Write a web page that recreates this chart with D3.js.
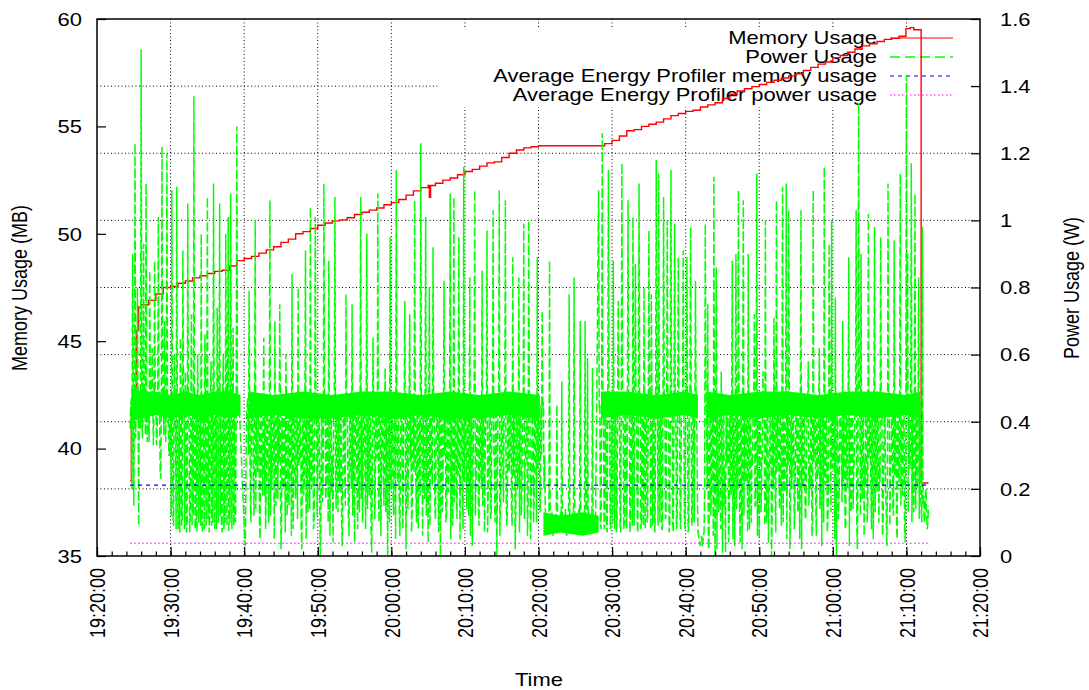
<!DOCTYPE html>
<html>
<head>
<meta charset="utf-8">
<script src="https://cdn.jsdelivr.net/npm/d3@7/dist/d3.min.js"></script>
<style>
  html, body { margin: 0; padding: 0; background: #fff; }
  svg { display: block; font-family: "Liberation Sans", Arial, Helvetica, sans-serif; }
</style>
</head>
<body>
<svg id="chart" width="1089" height="690"></svg>
<script>
// ---- data ----
const xTickLabels = ["19:20:00", "19:30:00", "19:40:00", "19:50:00", "20:00:00", "20:10:00",
  "20:20:00", "20:30:00", "20:40:00", "20:50:00", "21:00:00", "21:10:00", "21:20:00"];
const memTicks = [35, 40, 45, 50, 55, 60];
const powerTicks = [0, 0.2, 0.4, 0.6, 0.8, 1, 1.2, 1.4, 1.6];
const seriesNames = ["Memory Usage", "Power Usage",
  "Average Energy Profiler memory usage", "Average Energy Profiler power usage"];

const memTime = ["19:24:30", "19:24:40", "19:25:00", "19:25:20", "19:25:40", "19:26:00", "19:27:00",
  "19:28:00", "19:29:00", "19:30:00", "19:31:00", "19:32:00", "19:33:00", "19:34:00", "19:35:00",
  "19:36:00", "19:37:00", "19:38:00", "19:39:00", "19:40:00", "19:41:00", "19:42:00", "19:43:00",
  "19:44:00", "19:45:00", "19:46:00", "19:47:00", "19:48:00", "19:49:00", "19:50:00", "19:51:00",
  "19:52:00", "19:53:00", "19:54:00", "19:55:00", "19:56:00", "19:57:00", "19:58:00", "19:59:00",
  "20:00:00", "20:01:00", "20:02:00", "20:03:00", "20:04:00", "20:05:00", "20:05:10", "20:05:20",
  "20:06:00", "20:07:00", "20:08:00", "20:09:00", "20:10:00", "20:11:00", "20:12:00", "20:13:00",
  "20:14:00", "20:15:00", "20:16:00", "20:17:00", "20:18:00", "20:19:00", "20:20:00", "20:28:00",
  "20:29:00", "20:30:00", "20:31:00", "20:32:00", "20:33:00", "20:34:00", "20:35:00", "20:36:00",
  "20:37:00", "20:38:00", "20:39:00", "20:40:00", "20:41:00", "20:42:00", "20:43:00", "20:44:00",
  "20:45:00", "20:46:00", "20:47:00", "20:48:00", "20:49:00", "20:50:00", "20:51:00", "20:52:00",
  "20:53:00", "20:54:00", "20:55:00", "20:56:00", "20:57:00", "20:58:00", "20:59:00", "21:00:00",
  "21:01:00", "21:02:00", "21:03:00", "21:04:00", "21:05:00", "21:06:00", "21:07:00", "21:08:00",
  "21:09:00", "21:09:56", "21:10:30", "21:11:00", "21:12:00", "21:13:00"];
const memMB = [38.5, 41.9, 42.2, 45.5, 46.6, 46.7, 46.9,
  47.2, 47.5, 47.55, 47.7, 47.8, 47.95, 48.05, 48.15,
  48.25, 48.3, 48.5, 48.75, 48.85, 48.95, 49.1, 49.25,
  49.4, 49.6, 49.75, 50.0, 50.1, 50.25, 50.4, 50.5,
  50.6, 50.65, 50.75, 50.9, 51.0, 51.1, 51.2, 51.35,
  51.45, 51.6, 51.8, 52.0, 52.15, 52.25, 51.7, 52.25,
  52.35, 52.5, 52.6, 52.75, 52.9, 53.0, 53.15, 53.3,
  53.35, 53.55, 53.75, 53.9, 54.0, 54.05, 54.1, 54.1,
  54.2, 54.35, 54.55, 54.8, 54.85, 55.0, 55.1, 55.2,
  55.35, 55.5, 55.6, 55.7, 55.75, 55.9, 56.0, 56.1,
  56.3, 56.5, 56.65, 56.75, 56.85, 56.95, 57.05, 57.15,
  57.25, 57.35, 57.45, 57.6, 57.75, 57.9, 58.0, 58.2,
  58.3, 58.45, 58.6, 58.75, 58.85, 58.95, 59.05, 59.1,
  59.2, 59.55, 59.6, 59.5, 38.4, 38.4];

// power samples on the 10 s grid from 19:24:30
const powerStart = "19:24:30";
const powerStepSec = 10;
const powerW = [
  0.38, 0.47, 0.9, 0.15, 1.23, 0.44, 0.8, 0.09, 0.46, 1.51,
  0.35, 0.93, 0.45, 1.11, 0.34, 0.47, 0.85, 0.44, 0.62, 0.33,
  0.88, 0.46, 0.36, 1.01, 0.45, 0.23, 1.22, 0.47, 0.7, 0.34,
  1.20, 0.45, 0.3, 0.46, 1.09, 0.1, 0.6, 0.44, 1.10, 0.08,
  0.46, 0.65, 0.09, 0.91, 0.45, 0.55, 0.07, 1.05, 0.44, 0.11,
  0.72, 0.46, 1.37, 0.08, 0.45, 0.6, 0.1, 0.47, 0.96, 0.07,
  0.44, 0.66, 0.09, 1.07, 0.46, 0.12, 0.58, 0.45, 1.11, 0.08,
  0.47, 0.74, 0.1, 1.05, 0.44, 0.07, 0.6, 0.46, 0.96, 0.09,
  1.01, 0.45, 1.08, 0.08, 0.68, 0.46, 0.1, 1.28, 0.45, 0.44,
  0.36, 0.27, 0.18, 0.09, 0.03, 0.44, 0.47, 0.79, 0.2, 0.45,
  0.46, 0.12, 1.0, 0.44, 0.25, 0.47, 0.05, 0.45, 0.18, 0.65,
  0.46, 0.22, 0.44, 0.1, 1.06, 0.47, 0.3, 0.45, 0.7, 0.15,
  0.46, 0.44, 0.75, 0.02, 0.47, 0.2, 0.45, 0.6, 0.12, 0.46,
  0.25, 0.44, 0.84, 0.08, 0.47, 0.17, 0.45, 0.8, 0.28, 0.46,
  0.02, 0.44, 0.22, 0.91, 0.47, 0.13, 0.45, 1.04, 0.2, 0.46,
  0.1, 1.01, 0.44, 0.27, 0.47, 0.0, 0.45, 0.16, 1.11, 0.46,
  0.21, 0.44, 0.88, 0.06, 0.47, 0.3, 0.45, 1.07, 0.14, 0.46,
  0.44, 0.19, 0.47, 0.03, 0.45, 0.24, 0.78, 0.46, 0.11, 0.44,
  0.26, 0.75, 0.47, 0.04, 0.45, 0.2, 0.46, 0.13, 1.07, 0.44,
  0.29, 0.47, 0.08, 0.96, 0.45, 0.18, 0.46, 0.01, 0.65, 0.44,
  0.23, 0.47, 1.08, 0.1, 0.45, 0.27, 0.46, 0.15, 0.56, 0.44,
  0.0, 0.47, 0.95, 0.2, 0.45, 0.12, 0.46, 1.15, 0.25, 0.44,
  0.06, 0.47, 0.19, 0.45, 0.76, 0.02, 0.46, 0.28, 0.72, 0.44,
  0.14, 0.47, 1.06, 0.21, 0.45, 0.08, 0.46, 1.23, 0.3, 0.44,
  0.17, 1.01, 0.47, 0.04, 0.8, 0.45, 0.24, 0.92, 0.46, 0.11,
  0.44, 0.26, 0.47, 0.0, 0.45, 0.19, 0.82, 0.46, 0.13, 0.44,
  0.27, 1.08, 0.47, 0.09, 1.07, 0.45, 0.22, 0.46, 0.95, 0.05,
  0.44, 0.18, 1.16, 0.47, 0.29, 0.45, 0.12, 0.83, 0.46, 0.03,
  0.44, 1.09, 0.21, 0.47, 0.15, 0.45, 0.26, 0.85, 0.46, 0.07,
  0.44, 0.97, 0.2, 0.47, 0.11, 0.45, 1.03, 0.28, 0.46, 0.0,
  0.44, 1.09, 0.16, 0.47, 0.23, 0.45, 1.06, 0.09, 0.46, 0.25,
  0.44, 0.14, 0.89, 0.47, 0.02, 0.45, 0.2, 0.83, 0.46, 0.12,
  0.44, 0.99, 0.27, 0.47, 0.06, 1.0, 0.45, 0.18, 0.46, 0.1,
  0.44, 0.24, 0.89, 0.47, 0.15, 0.45, 0.73, 0.46, 0.3, 0.08,
  0.12, 0.07, 0.88, 0.1, 0.13, 0.06, 0.11, 0.09, 0.45, 0.12,
  0.07, 0.13, 0.52, 0.08, 0.11, 0.14, 0.06, 0.1, 0.78, 0.12,
  0.08, 0.13, 0.83, 0.07, 0.11, 0.09, 0.14, 0.7, 0.06, 0.12,
  0.1, 0.7, 0.08, 0.59, 0.13, 0.07, 0.11, 0.56, 0.09, 0.12,
  0.3, 0.66, 1.09, 0.45, 0.08, 1.26, 0.46, 0.1, 0.44, 0.07,
  1.15, 0.45, 0.09, 0.47, 0.88, 0.08, 0.44, 0.11, 0.76, 0.46,
  0.07, 1.17, 0.45, 0.1, 0.47, 0.08, 1.06, 0.44, 0.12, 0.46,
  1.01, 0.09, 0.87, 0.45, 0.07, 1.11, 0.47, 0.1, 0.44, 0.8,
  0.08, 0.46, 0.11, 0.97, 0.45, 0.78, 0.09, 0.47, 0.07, 1.18,
  0.44, 1.14, 0.1, 0.46, 0.08, 1.07, 0.45, 0.12, 1.0, 0.47,
  0.09, 1.15, 0.44, 0.07, 0.99, 0.46, 0.1, 0.89, 0.45, 0.08,
  0.47, 0.91, 0.11, 0.44, 0.89, 0.07, 0.46, 0.98, 0.09, 0.45,
  0.1, 0.82, 0.45, 0.08, 0.05, 0.03, 0.06, 0.04, 0.07, 0.99,
  0.45, 0.75, 0.02, 0.47, 0.2, 0.44, 1.13, 0.0, 0.86, 0.46,
  0.13, 0.45, 0.55, 0.01, 0.47, 0.25, 0.44, 0.47, 0.04, 0.46,
  0.18, 0.88, 0.45, 0.03, 0.9, 0.47, 1.09, 0.12, 0.44, 0.02,
  1.06, 0.46, 0.22, 0.45, 0.9, 0.08, 0.47, 0.3, 0.44, 0.72,
  0.15, 1.14, 0.46, 0.05, 0.45, 0.27, 0.55, 0.47, 1.0, 0.1,
  0.44, 0.21, 0.46, 0.0, 0.45, 0.71, 0.17, 1.06, 0.47, 0.26,
  0.44, 0.09, 1.10, 0.46, 0.19, 1.11, 0.45, 1.03, 0.02, 0.47,
  0.28, 0.44, 0.14, 0.46, 0.23, 0.45, 0.05, 1.03, 0.47, 0.2,
  0.44, 0.12, 0.46, 0.58, 0.27, 0.45, 0.06, 1.09, 0.47, 0.18,
  0.44, 0.25, 0.62, 0.46, 0.03, 0.45, 1.16, 0.21, 0.47, 0.11,
  0.93, 0.44, 1.0, 0.26, 0.46, 0.77, 0.0, 0.45, 0.16, 0.47,
  0.29, 0.7, 0.44, 0.08, 0.46, 0.2, 0.89, 0.45, 0.13, 0.47,
  0.24, 0.44, 1.03, 0.02, 1.35, 0.46, 0.9, 0.17, 0.45, 0.28,
  0.47, 0.1, 1.02, 0.44, 0.22, 0.46, 0.05, 0.98, 0.45, 0.19,
  0.47, 0.27, 0.95, 0.44, 0.11, 0.46, 0.2, 0.03, 1.11, 0.45,
  0.25, 0.47, 0.14, 0.94, 0.44, 0.08, 0.46, 0.22, 1.14, 0.45,
  0.18, 0.47, 0.04, 1.43, 0.9, 0.44, 0.26, 1.17, 0.46, 0.13,
  1.08, 0.45, 0.2, 0.83, 0.47, 0.15, 0.98, 0.18, 0.12, 0.2,
  0.08, 0.15
];
// samples taken 5 s after each of the ones above
const powerHalfW = [
  0.45, 0.2, 0.44, 0.46, 0.35, 0.45, 0.44, 0.47, 0.38, 0.46,
  0.45, 0.44, 0.36, 0.46, 0.45, 0.34, 0.47, 0.44, 0.45, 0.46,
  0.44, 0.33, 0.45, 0.46, 0.25, 0.47, 0.44, 0.36, 0.45, 0.46,
  0.44, 0.3, 0.45, 0.12, 0.46, 0.09, 0.44, 0.08, 0.45, 0.1,
  0.07, 0.46, 0.11, 0.45, 0.08, 0.44, 0.1, 0.46, 0.07, 0.45,
  0.09, 0.12, 0.44, 0.1, 0.07, 0.46, 0.45, 0.09, 0.11, 0.44,
  0.08, 0.45, 0.46, 0.11, 0.07, 0.44, 0.09, 0.1, 0.45, 0.46,
  0.08, 0.44, 0.46, 0.12, 0.09, 0.45, 0.08, 0.1, 0.44, 0.46,
  0.07, 0.1, 0.45, 0.44, 0.09, 0.11, 0.46, 0.45, 0.44, 0.4,
  0.32, 0.22, 0.14, 0.05, 0.25, 0.45, 0.3, 0.46, 0.1, 0.44,
  0.2, 0.45, 0.14, 0.3, 0.44, 0.09, 0.46, 0.26, 0.44, 0.18,
  0.08, 0.45, 0.23, 0.46, 0.12, 0.2, 0.44, 0.05, 0.33, 0.45,
  0.17, 0.28, 0.46, 0.1, 0.3, 0.45, 0.07, 0.44, 0.24, 0.15,
  0.45, 0.06, 0.3, 0.44, 0.21, 0.46, 0.11, 0.27, 0.45, 0.09,
  0.31, 0.18, 0.45, 0.05, 0.26, 0.44, 0.14, 0.29, 0.46, 0.08,
  0.33, 0.45, 0.12, 0.44, 0.22, 0.07, 0.46, 0.3, 0.45, 0.17,
  0.44, 0.1, 0.27, 0.45, 0.19, 0.04, 0.46, 0.25, 0.44, 0.13,
  0.31, 0.46, 0.09, 0.24, 0.45, 0.15, 0.44, 0.28, 0.06, 0.45,
  0.2, 0.12, 0.44, 0.3, 0.46, 0.08, 0.23, 0.45, 0.17, 0.1,
  0.45, 0.26, 0.44, 0.14, 0.3, 0.46, 0.07, 0.21, 0.45, 0.11,
  0.44, 0.29, 0.18, 0.45, 0.06, 0.46, 0.24, 0.44, 0.13, 0.32,
  0.45, 0.1, 0.27, 0.46, 0.16, 0.44, 0.05, 0.45, 0.22, 0.12,
  0.31, 0.46, 0.08, 0.44, 0.2, 0.45, 0.14, 0.46, 0.28, 0.07,
  0.44, 0.25, 0.45, 0.1, 0.3, 0.46, 0.18, 0.44, 0.06, 0.23,
  0.45, 0.12, 0.29, 0.46, 0.09, 0.44, 0.21, 0.45, 0.15, 0.32,
  0.46, 0.07, 0.26, 0.44, 0.13, 0.45, 0.3, 0.1, 0.46, 0.19,
  0.44, 0.05, 0.28, 0.45, 0.16, 0.46, 0.11, 0.24, 0.44, 0.3,
  0.45, 0.08, 0.22, 0.46, 0.14, 0.44, 0.27, 0.06, 0.45, 0.18,
  0.46, 0.12, 0.3, 0.44, 0.09, 0.45, 0.2, 0.15, 0.46, 0.28,
  0.44, 0.07, 0.25, 0.45, 0.13, 0.46, 0.31, 0.1, 0.44, 0.19,
  0.45, 0.06, 0.27, 0.46, 0.16, 0.44, 0.22, 0.12, 0.45, 0.29,
  0.46, 0.09, 0.24, 0.44, 0.14, 0.45, 0.3, 0.07, 0.46, 0.2,
  0.44, 0.11, 0.28, 0.45, 0.15, 0.46, 0.05, 0.23, 0.44, 0.18,
  0.45, 0.1, 0.26, 0.46, 0.13, 0.3, 0.44, 0.2, 0.15, 0.1,
  0.09, 0.11, 0.13, 0.08, 0.12, 0.1, 0.07, 0.13, 0.11, 0.09,
  0.1, 0.12, 0.09, 0.09, 0.13, 0.08, 0.11, 0.14, 0.1, 0.08,
  0.11, 0.1, 0.12, 0.12, 0.07, 0.13, 0.09, 0.11, 0.11, 0.08,
  0.12, 0.1, 0.1, 0.12, 0.09, 0.11, 0.08, 0.1, 0.12, 0.1,
  0.45, 0.9, 0.44, 0.1, 0.45, 0.46, 0.08, 0.45, 0.09, 0.46,
  0.44, 0.08, 0.46, 0.1, 0.45, 0.44, 0.07, 0.46, 0.45, 0.09,
  0.45, 0.44, 0.08, 0.46, 0.1, 0.45, 0.44, 0.07, 0.45, 0.09,
  0.46, 0.44, 0.45, 0.1, 0.46, 0.44, 0.08, 0.45, 0.09, 0.44,
  0.45, 0.1, 0.44, 0.46, 0.08, 0.45, 0.45, 0.1, 0.44, 0.46,
  0.09, 0.45, 0.44, 0.08, 0.46, 0.44, 0.11, 0.45, 0.45, 0.07,
  0.46, 0.44, 0.09, 0.45, 0.46, 0.08, 0.44, 0.45, 0.1, 0.46,
  0.44, 0.45, 0.08, 0.46, 0.45, 0.09, 0.44, 0.45, 0.11, 0.46,
  0.44, 0.45, 0.2, 0.06, 0.04, 0.05, 0.03, 0.06, 0.2, 0.45,
  0.2, 0.03, 0.3, 0.12, 0.45, 0.06, 0.25, 0.44, 0.02, 0.2,
  0.45, 0.08, 0.3, 0.46, 0.15, 0.01, 0.27, 0.44, 0.1, 0.22,
  0.45, 0.05, 0.28, 0.46, 0.14, 0.2, 0.44, 0.04, 0.3, 0.45,
  0.12, 0.25, 0.44, 0.07, 0.19, 0.46, 0.1, 0.27, 0.45, 0.15,
  0.45, 0.06, 0.24, 0.46, 0.13, 0.3, 0.44, 0.09, 0.21, 0.45,
  0.04, 0.28, 0.46, 0.12, 0.2, 0.44, 0.07, 0.25, 0.45, 0.14,
  0.3, 0.46, 0.1, 0.22, 0.45, 0.05, 0.27, 0.44, 0.16, 0.2,
  0.46, 0.08, 0.29, 0.44, 0.13, 0.24, 0.45, 0.02, 0.3, 0.46,
  0.11, 0.26, 0.44, 0.15, 0.2, 0.46, 0.09, 0.28, 0.45, 0.06,
  0.23, 0.44, 0.14, 0.3, 0.46, 0.1, 0.25, 0.45, 0.07, 0.21,
  0.44, 0.13, 0.28, 0.46, 0.05, 0.24, 0.45, 0.11, 0.3, 0.44,
  0.16, 0.22, 0.46, 0.09, 0.27, 0.45, 0.03, 0.26, 0.44, 0.14,
  0.3, 0.46, 0.1, 0.23, 0.45, 0.12, 0.28, 0.44, 0.06, 0.21,
  0.46, 0.15, 0.29, 0.44, 0.08, 0.25, 0.45, 0.13, 0.3, 0.46,
  0.1, 0.22, 0.44, 0.06, 0.27, 0.45, 0.14, 0.2, 0.46, 0.09,
  0.28, 0.44, 0.12, 0.24, 0.45, 0.05, 0.3, 0.46, 0.15, 0.21,
  0.44, 0.08, 0.26, 0.45, 0.13, 0.29, 0.46, 0.1, 0.22, 0.44,
  0.14, 0.3, 0.45, 0.11, 0.2, 0.1, 0.15, 0.1, 0.18, 0.12,
  0.1
];

// envelope of the dense idle-level noise band (W); NaN = no band
const bandTime = ["19:24:40", "19:26:00", "19:28:00", "19:30:00", "19:32:00", "19:34:00", "19:36:00",
  "19:38:00", "19:39:30", "19:40:00", "19:40:40", "19:44:00", "19:48:00", "19:52:00", "19:56:00",
  "20:00:00", "20:04:00", "20:08:00", "20:12:00", "20:16:00", "20:20:10", "20:20:20", "20:20:40",
  "20:23:00", "20:26:00", "20:28:10", "20:28:20", "20:28:30", "20:32:00", "20:36:00", "20:40:00",
  "20:41:40", "20:42:00", "20:42:50", "20:46:00", "20:50:00", "20:54:00", "20:58:00", "21:02:00",
  "21:06:00", "21:10:00", "21:11:50"];
const bandLo = [0.40, 0.41, 0.42, 0.41, 0.42, 0.41, 0.42,
  0.41, 0.42, NaN, 0.41, 0.42, 0.41, 0.41, 0.42,
  0.41, 0.42, 0.41, 0.41, 0.42, 0.41, NaN, 0.06,
  0.07, 0.06, 0.07, NaN, 0.41, 0.42, 0.41, 0.42,
  0.41, NaN, 0.41, 0.42, 0.41, 0.42, 0.41, 0.42,
  0.41, 0.42, 0.41];
const bandHi = [0.50, 0.49, 0.49, 0.48, 0.49, 0.48, 0.49,
  0.49, 0.48, NaN, 0.49, 0.48, 0.49, 0.48, 0.49,
  0.49, 0.48, 0.49, 0.48, 0.49, 0.48, NaN, 0.13,
  0.12, 0.13, 0.12, NaN, 0.49, 0.49, 0.48, 0.49,
  0.48, NaN, 0.49, 0.48, 0.49, 0.49, 0.48, 0.49,
  0.49, 0.48, 0.49];

const avgSpan = ["19:24:30", "21:13:00"];
const avgMemMB = 38.3;
const avgPowerW = 0.038;

// ---- layout ----
const SX = 1.22;              // text in the picture is stretched sideways
const plotL = 97, plotR = 980, plotT = 19, plotB = 556;
const parseT = d3.timeParse("%H:%M:%S");
const svg = d3.select("#chart");
const GREEN = "#00ff00";

let x = d3.scaleTime()
  .domain([parseT(xTickLabels[0]), parseT(xTickLabels[xTickLabels.length - 1])])
  .range([plotL, plotR]);
let yMem = d3.scaleLinear().domain([memTicks[0], memTicks[memTicks.length - 1]]).range([plotB, plotT]);
let yPow = d3.scaleLinear().domain([powerTicks[0], powerTicks[powerTicks.length - 1]]).range([plotB, plotT]);

let xTicks = xTickLabels.map(parseT);

// grid (x ticks and y2 ticks), dotted
let grid = svg.append("g").attr("stroke", "#000").attr("stroke-width", 1).attr("stroke-dasharray", "1,2.5");
grid.selectAll("line.v").data(xTicks.slice(1, -1)).enter().append("line")
  .attr("x1", d => x(d)).attr("x2", d => x(d)).attr("y1", plotT).attr("y2", plotB);
grid.selectAll("line.h").data(powerTicks.slice(1, -1)).enter().append("line")
  .attr("x1", plotL).attr("x2", plotR).attr("y1", d => yPow(d)).attr("y2", d => yPow(d));

// key background hides the grid but not the data
svg.append("rect").attr("x", 438).attr("y", 27).attr("width", 534).attr("height", 80).attr("fill", "#fff");

// key
let keyRows = [
  { color: "#ff0000", dash: null, w: 1.2 },
  { color: GREEN, dash: "10,5", w: 1.3 },
  { color: "#0000ff", dash: "4,4", w: 1.2 },
  { color: "#ff00ff", dash: "1.5,2.5", w: 1 }
];
let key = svg.append("g");
seriesNames.forEach((name, i) => {
  let yy = 38 + i * 19;
  key.append("text").text(name)
    .attr("text-anchor", "end").attr("dy", "0.35em").attr("font-size", 18)
    .attr("transform", "translate(877," + yy + ") scale(" + SX + ",1)");
  key.append("line").attr("x1", 890).attr("x2", 953).attr("y1", yy).attr("y2", yy)
    .attr("stroke", keyRows[i].color).attr("stroke-width", keyRows[i].w)
    .attr("stroke-dasharray", keyRows[i].dash);
});

// ---- series ----
let memData = memTime.map((t, i) => ({ t: parseT(t), v: memMB[i] }));
let memLine = d3.line().curve(d3.curveStepAfter).x(d => x(d.t)).y(d => yMem(d.v));
svg.append("path").datum(memData).attr("d", memLine)
  .attr("fill", "none").attr("stroke", "#ff0000").attr("stroke-width", 1.4);

let bandData = bandTime.map((t, i) => ({ t: parseT(t), lo: bandLo[i], hi: bandHi[i] }));
let bandArea = d3.area().defined(d => !isNaN(d.lo))
  .x(d => x(d.t)).y0(d => yPow(d.lo)).y1(d => yPow(d.hi));
svg.append("path").datum(bandData).attr("d", bandArea).attr("fill", GREEN);

// merge the two sample sets in time order
let p0 = parseT(powerStart);
let powerData = [];
powerW.forEach((v, i) => {
  powerData.push({ t: d3.timeSecond.offset(p0, i * powerStepSec), v: v });
  if (i < powerHalfW.length) {
    powerData.push({ t: d3.timeSecond.offset(p0, i * powerStepSec + powerStepSec / 2), v: powerHalfW[i] });
  }
});
let powLine = d3.line().x(d => x(d.t)).y(d => yPow(d.v));
svg.append("path").datum(powerData).attr("d", powLine)
  .attr("fill", "none").attr("stroke", GREEN).attr("stroke-width", 1.5)
  .attr("stroke-dasharray", "9,3");

let spanT = avgSpan.map(parseT);
svg.append("line").attr("x1", x(spanT[0])).attr("x2", x(spanT[1]))
  .attr("y1", yMem(avgMemMB)).attr("y2", yMem(avgMemMB))
  .attr("stroke", "#0000ff").attr("stroke-width", 1.2).attr("stroke-dasharray", "4,4");
svg.append("line").attr("x1", x(spanT[0])).attr("x2", x(spanT[1]))
  .attr("y1", yPow(avgPowerW)).attr("y2", yPow(avgPowerW))
  .attr("stroke", "#ff00ff").attr("stroke-width", 1).attr("stroke-dasharray", "1.5,2.5");

// ---- axes ----
function plainAxis(g) {
  g.attr("font-size", 18).attr("font-family", null);
  g.select(".domain").remove();
  g.selectAll(".tick line").attr("stroke", "#000").attr("stroke-width", 1.2);
}

// minor x ticks every 2 minutes
svg.append("g").attr("transform", "translate(0," + plotB + ")")
  .call(d3.axisBottom(x).ticks(d3.timeMinute.every(2)).tickSize(-4.5).tickFormat(""))
  .call(plainAxis);

let gx = svg.append("g").attr("transform", "translate(0," + plotB + ")")
  .call(d3.axisBottom(x).tickValues(xTicks).tickSize(-9).tickFormat((d, i) => xTickLabels[i]))
  .call(plainAxis);
gx.selectAll(".tick text")
  .attr("x", 0).attr("y", 0).attr("dy", "0.35em").attr("text-anchor", "end").attr("fill", "#000")
  .attr("transform", "translate(0,12) scale(" + SX + ",1) rotate(-90)");

let gyl = svg.append("g").attr("transform", "translate(" + plotL + ",0)")
  .call(d3.axisLeft(yMem).tickValues(memTicks).tickSize(-9).tickFormat(d3.format("d")))
  .call(plainAxis);
gyl.selectAll(".tick text")
  .attr("x", 0).attr("dy", "0.35em").attr("text-anchor", "end").attr("fill", "#000")
  .attr("transform", "translate(-15,0) scale(" + SX + ",1)");

let gyr = svg.append("g").attr("transform", "translate(" + plotR + ",0)")
  .call(d3.axisRight(yPow).tickValues(powerTicks).tickSize(-9).tickFormat(d3.format("~g")))
  .call(plainAxis);
gyr.selectAll(".tick text")
  .attr("x", 0).attr("dy", "0.35em").attr("text-anchor", "start").attr("fill", "#000")
  .attr("transform", "translate(20,0) scale(" + SX + ",1)");

// border
svg.append("rect").attr("x", plotL).attr("y", plotT).attr("width", plotR - plotL).attr("height", plotB - plotT)
  .attr("fill", "none").attr("stroke", "#000").attr("stroke-width", 1.5);

// axis titles
svg.append("text").text("Time").attr("text-anchor", "middle").attr("font-size", 18)
  .attr("transform", "translate(539,686) scale(" + SX + ",1)");
svg.append("text").text("Memory Usage (MB)").attr("text-anchor", "middle").attr("dy", "0.35em").attr("font-size", 18)
  .attr("transform", "translate(19,288) scale(" + SX + ",1) rotate(-90)");
svg.append("text").text("Power Usage (W)").attr("text-anchor", "middle").attr("dy", "0.35em").attr("font-size", 18)
  .attr("transform", "translate(1071,288) scale(" + SX + ",1) rotate(-90)");
</script>
</body>
</html>
